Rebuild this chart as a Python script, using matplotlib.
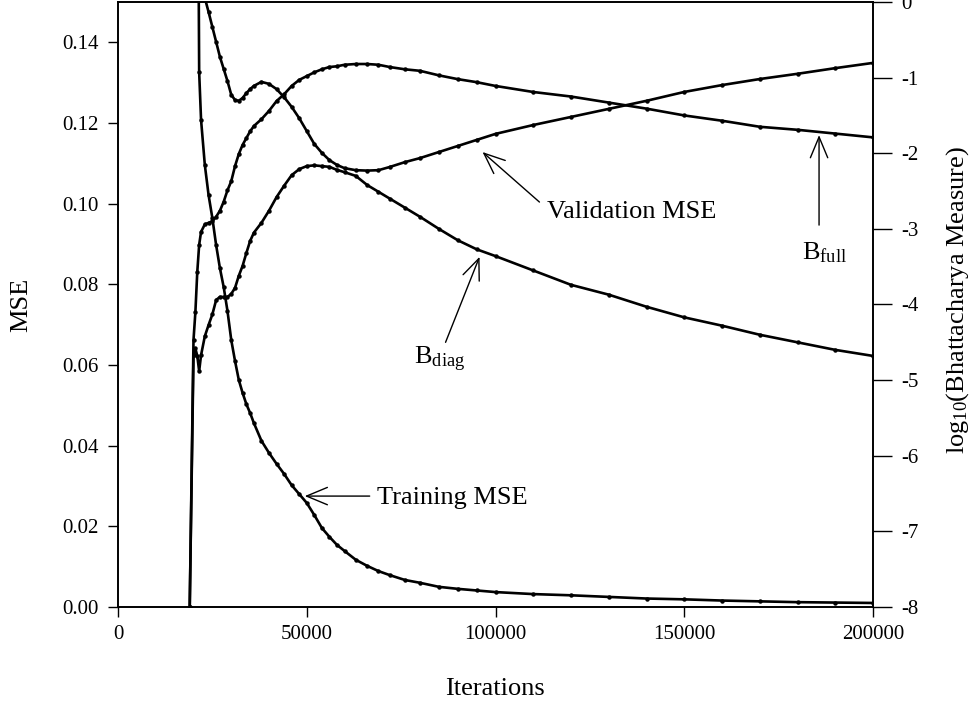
import matplotlib
matplotlib.use("Agg")
import matplotlib.pyplot as plt

plt.rcParams['font.family'] = ['Liberation Serif', 'DejaVu Serif']
plt.rcParams['mathtext.fontset'] = 'custom'
plt.rcParams['mathtext.rm'] = 'Liberation Serif'
plt.rcParams['mathtext.it'] = 'Liberation Serif:italic'
plt.rcParams['axes.unicode_minus'] = False

# iterations at which the curves were sampled
iterations = [19000, 20000, 20500, 21000, 21500, 22000, 23000, 24000, 25000, 26000,
              27000, 28000, 29000, 30000, 31000, 32000, 33000, 34000, 35000, 36000,
              38000, 40000, 42000, 44000, 46000, 48000, 50000, 52000, 54000, 56000,
              58000, 60000, 63000, 66000, 69000, 72000, 76000, 80000, 85000, 90000,
              95000, 100000, 110000, 120000, 130000, 140000, 150000, 160000, 170000,
              180000, 190000, 200000]

# left axis (MSE)
training_mse = [0.45, 0.38, 0.30, 0.22, 0.1326, 0.1208, 0.1096, 0.1021, 0.0964, 0.0897,
                0.0840, 0.0793, 0.0734, 0.0662, 0.0610, 0.0563, 0.0531, 0.0503, 0.0481, 0.0456,
                0.0412, 0.0382, 0.0355, 0.0330, 0.0302, 0.0280, 0.0258, 0.0228, 0.0196, 0.0174,
                0.0154, 0.0139, 0.0117, 0.0102, 0.0089, 0.0079, 0.0067, 0.0060, 0.0050, 0.0045,
                0.0041, 0.0037, 0.0032, 0.0029, 0.0025, 0.0021, 0.0019, 0.0016, 0.0014,
                0.0012, 0.0011, 0.0010]
validation_mse = [0.26, 0.22, 0.205, 0.19, 0.177, 0.166, 0.151, 0.1475, 0.1438, 0.1401,
                  0.1364, 0.1334, 0.1304, 0.1270, 0.1257, 0.1255, 0.1262, 0.1274, 0.1284, 0.1292,
                  0.1302, 0.1297, 0.1284, 0.1264, 0.1240, 0.1212, 0.1180, 0.1148, 0.1126, 0.1108,
                  0.1096, 0.1088, 0.1083, 0.1082, 0.1083, 0.1091, 0.1103, 0.1113, 0.1128, 0.1143,
                  0.1158, 0.1173, 0.1195, 0.1215, 0.1235, 0.1255, 0.1277, 0.1294, 0.1309,
                  0.1322, 0.1336, 0.1349]

# right axis (log10 Bhattacharya measure)
b_full = [-8.0, -4.47, -4.10, -3.57, -3.21, -3.04, -2.94, -2.92, -2.90, -2.84,
          -2.76, -2.64, -2.49, -2.37, -2.17, -2.01, -1.89, -1.80, -1.71, -1.64,
          -1.55, -1.44, -1.31, -1.22, -1.11, -1.03, -0.98, -0.93, -0.89, -0.86,
          -0.85, -0.83, -0.82, -0.82, -0.83, -0.86, -0.89, -0.91, -0.97, -1.02,
          -1.06, -1.11, -1.19, -1.25, -1.33, -1.41, -1.50, -1.57, -1.65,
          -1.69, -1.74, -1.79]
b_diag = [-8.0, -4.67, -4.58, -4.68, -4.88, -4.67, -4.42, -4.27, -4.13, -3.94,
          -3.90, -3.90, -3.90, -3.86, -3.78, -3.62, -3.49, -3.32, -3.16, -3.05,
          -2.92, -2.76, -2.58, -2.43, -2.29, -2.21, -2.17, -2.16, -2.17, -2.18,
          -2.22, -2.25, -2.30, -2.42, -2.51, -2.60, -2.72, -2.84, -3.00, -3.15,
          -3.27, -3.36, -3.55, -3.74, -3.87, -4.03, -4.17, -4.28, -4.40,
          -4.50, -4.60, -4.68]

fig = plt.figure(figsize=(9.8, 7.1), dpi=100)
ax = fig.add_axes([118 / 980, 103 / 710, 755 / 980, 605 / 710])
ax2 = ax.twinx()

style = dict(color='black', lw=1.9, marker='o', ms=2.2, mfc='black', mec='black')
ax.plot(iterations, training_mse, **style)
ax.plot(iterations, validation_mse, **style)
ax2.plot(iterations, b_full, **style)
ax2.plot(iterations, b_diag, **style)

ax.set_xlim(0, 200000)
ax.set_ylim(0, 0.15)
ax2.set_ylim(-8, 0)
ax.set_xticks([0, 50000, 100000, 150000, 200000])
ax.set_xticklabels(['0', '50000', '100000', '150000', '200000'])
ax.set_yticks([0.00, 0.02, 0.04, 0.06, 0.08, 0.10, 0.12, 0.14])
ax.set_yticklabels(['%.2f' % v for v in ax.get_yticks()])
ax2.set_yticks(range(-8, 1))
ax2.set_yticklabels([str(v) for v in range(-8, 1)])

ax.tick_params(axis='both', direction='out', length=7, width=1, labelsize=15, pad=7)
ax.tick_params(axis='x', pad=6)
ax2.tick_params(axis='y', direction='out', length=14, width=1, labelsize=15, pad=6)
for a in (ax, ax2):
    for s in a.spines.values():
        s.set_linewidth(1.2)

fig.text(21 / 980, 1 - 305 / 710, 'MSE', rotation=90, ha='center', va='center', fontsize=19)
fig.text(495 / 980, 1 - 689 / 710, 'Iterations', ha='center', va='center', fontsize=19)
fig.text(958 / 980, 1 - 300 / 710, r'log$_{10}$(Bhattacharya Measure)', rotation=90,
         ha='center', va='center', fontsize=19)

arrow = dict(arrowstyle='->,head_length=0.6,head_width=0.25', lw=1.0, color='black',
             mutation_scale=25, shrinkA=0, shrinkB=0)
ax.annotate('', xy=(49470, 0.0275), xytext=(66670, 0.0275), arrowprops=arrow)
ax.text(68520, 0.0270, 'Training MSE', ha='left', va='center', fontsize=19)
ax.annotate('', xy=(96560, 0.1128), xytext=(111640, 0.1004), arrowprops=arrow)
ax.text(113760, 0.0980, 'Validation MSE', ha='left', va='center', fontsize=19)
ax2.annotate('', xy=(185710, -1.76), xytext=(185710, -2.95), arrowprops=arrow)
ax2.text(187040, -3.31, r'B$_{\mathrm{full}}$', ha='center', va='center', fontsize=19)
ax2.annotate('', xy=(95770, -3.37), xytext=(86770, -4.50), arrowprops=arrow)
ax2.text(85180, -4.73, r'B$_{\mathrm{diag}}$', ha='center', va='center', fontsize=19)

fig.savefig('out.png', dpi=100)
